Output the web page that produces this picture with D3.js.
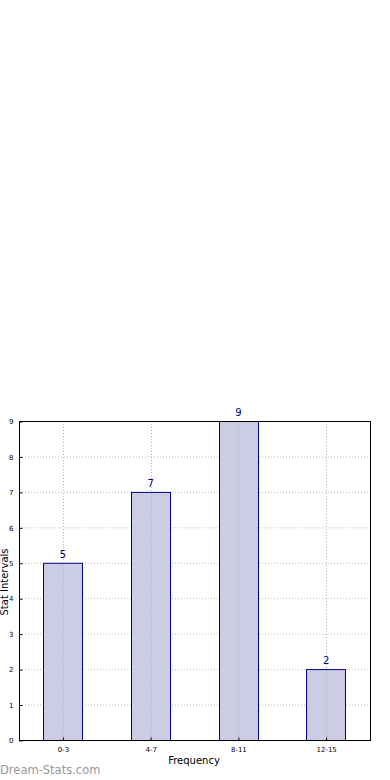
<!DOCTYPE html>
<html>
<head>
<meta charset="utf-8">
<script src="https://cdnjs.cloudflare.com/ajax/libs/d3/7.8.5/d3.min.js"></script>
<style>
  body { margin: 0; background: #fff; }
  svg { display: block; font-family: "DejaVu Sans", sans-serif; }
</style>
</head>
<body>
<svg width="390" height="780"></svg>
<script>
// data
var intervals = ['0-3', '4-7', '8-11', '12-15'];
var counts = [5, 7, 9, 2];
var yTicks = [0, 1, 2, 3, 4, 5, 6, 7, 8, 9];

var svg = d3.select('svg');
var pLeft = 19, pRight = 370, pTop = 421, pBottom = 740;

var x = d3.scaleBand().domain(intervals).range([pLeft, pRight]).paddingInner(0.55).paddingOuter(0.275);
var y = d3.scaleLinear().domain([0, 9]).range([pBottom, pTop]);

// horizontal grid
svg.append('g').selectAll('line').data(yTicks).enter().append('line')
    .attr('x1', pLeft).attr('x2', pRight)
    .attr('y1', function (d) { return y(d) + 0.5; }).attr('y2', function (d) { return y(d) + 0.5; })
    .attr('stroke', '#bbb').attr('stroke-width', 1).attr('stroke-dasharray', '1,2');

// bars
svg.selectAll('.bar').data(intervals).enter().append('rect')
    .attr('x', function (d) { return Math.round(x(d)) + 0.5; })
    .attr('y', function (d, i) { return y(counts[i]) + 0.5; })
    .attr('width', Math.round(x.bandwidth()))
    .attr('height', function (d, i) { return y(0) - y(counts[i]); })
    .attr('fill', '#cccce4').attr('stroke', '#00008b').attr('stroke-width', 1);

// vertical grid over bars
svg.append('g').selectAll('line').data(intervals).enter().append('line')
    .attr('x1', function (d) { return Math.round(x(d) + x.bandwidth() / 2) + 0.5; })
    .attr('x2', function (d) { return Math.round(x(d) + x.bandwidth() / 2) + 0.5; })
    .attr('y1', pTop).attr('y2', pBottom)
    .attr('stroke', '#b4b4b4').attr('stroke-width', 1).attr('stroke-dasharray', '1,2');

// value labels
svg.selectAll('.val').data(intervals).enter().append('text')
    .attr('x', function (d) { return x(d) + x.bandwidth() / 2; })
    .attr('y', function (d, i) { return y(counts[i]) - 5; })
    .attr('text-anchor', 'middle').attr('font-size', 10).attr('fill', '#000080')
    .text(function (d, i) { return counts[i]; });

// frame
svg.append('rect').attr('x', pLeft + 0.5).attr('y', pTop + 0.5)
    .attr('width', pRight - pLeft).attr('height', pBottom - pTop)
    .attr('fill', 'none').attr('stroke', '#000').attr('stroke-width', 1);

// axes
var yAxis = d3.axisLeft(y).tickValues(yTicks).tickSize(-3).tickPadding(6);
var ga = svg.append('g').attr('transform', 'translate(' + (pLeft + 0.5) + ',0.5)').call(yAxis);
ga.select('.domain').remove();
ga.selectAll('text').attr('font-size', 7).attr('font-family', '"DejaVu Sans", sans-serif');

var xAxis = d3.axisBottom(x).tickSize(-3).tickPadding(7);
var gx = svg.append('g').attr('transform', 'translate(0.5,' + (pBottom + 0.5) + ')').call(xAxis);
gx.select('.domain').remove();
gx.selectAll('text').attr('font-size', 7).attr('font-family', '"DejaVu Sans", sans-serif');

// titles
svg.append('text').attr('x', 194).attr('y', 764).attr('text-anchor', 'middle')
    .attr('font-size', 10).text('Frequency');
svg.append('text').attr('transform', 'translate(8,582) rotate(-90)').attr('text-anchor', 'middle')
    .attr('font-size', 10).text('Stat Intervals');
svg.append('text').attr('x', 0).attr('y', 774).attr('font-size', 11.5)
    .attr('fill', '#999').text('Dream-Stats.com');
</script>
</body>
</html>
